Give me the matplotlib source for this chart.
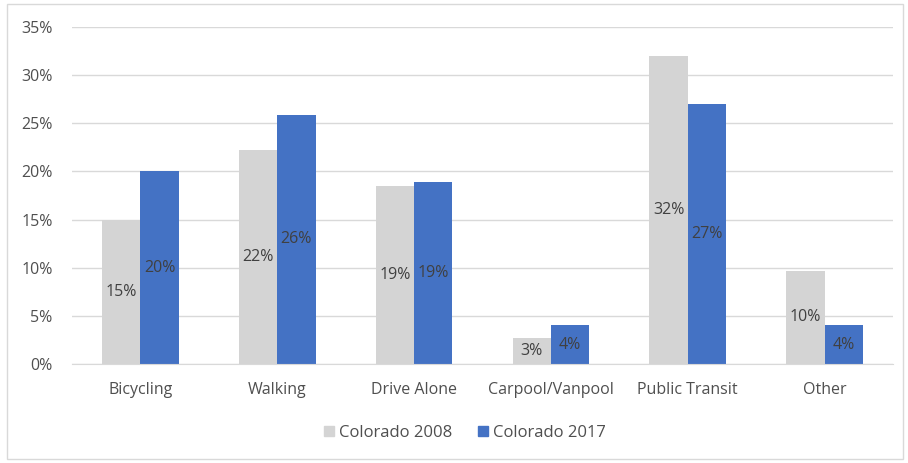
import matplotlib
matplotlib.use("Agg")
import matplotlib.pyplot as plt
import matplotlib.patches as mpatches
from matplotlib.ticker import FuncFormatter
import numpy as np

categories = ["Bicycling", "Walking", "Drive Alone", "Carpool/Vanpool", "Public Transit", "Other"]
series_names = ["Colorado 2008", "Colorado 2017"]
values_2008 = [0.15, 0.222, 0.185, 0.027, 0.32, 0.097]
values_2017 = [0.20, 0.259, 0.189, 0.04, 0.27, 0.04]
labels_2008 = ["15%", "22%", "19%", "3%", "32%", "10%"]
labels_2017 = ["20%", "26%", "19%", "4%", "27%", "4%"]
yticks = [0, 0.05, 0.10, 0.15, 0.20, 0.25, 0.30, 0.35]

plt.rcParams['font.family'] = ['Open Sans', 'DejaVu Sans']

fig = plt.figure(figsize=(9.08, 4.63), dpi=100)
ax = fig.add_axes([72/908, 1-364/463, (893-72)/908, (364-27)/463])

x = np.arange(len(categories))
w = 0.28
gray = "#D4D4D4"
blue = "#4472C4"
b1 = ax.bar(x - w/2, values_2008, w, color=gray, label=series_names[0], zorder=2)
b2 = ax.bar(x + w/2, values_2017, w, color=blue, label=series_names[1], zorder=2)

txtc = "#404040"
for rect, lab in zip(b1, labels_2008):
    ax.text(rect.get_x() + rect.get_width()/2, rect.get_height()/2, lab,
            ha="center", va="center", fontsize=11.5, color=txtc, zorder=3)
for rect, lab in zip(b2, labels_2017):
    ax.text(rect.get_x() + rect.get_width()/2, rect.get_height()/2, lab,
            ha="center", va="center", fontsize=11.5, color=txtc, zorder=3)

ax.set_xlim(-0.5, len(categories) - 0.5)
ax.set_ylim(0, 0.35)
ax.set_yticks(yticks)
ax.yaxis.set_major_formatter(FuncFormatter(lambda v, p: f"{v*100:.0f}%"))
ax.set_xticks(x)
ax.set_xticklabels(categories)
ax.tick_params(axis="both", length=0, colors="#4F4F4F", labelsize=11.5)
ax.tick_params(axis="x", pad=13)
ax.tick_params(axis="y", pad=14)
ax.grid(axis="y", color="#D9D9D9", linewidth=1, zorder=0)
for s in ["top", "right", "left"]:
    ax.spines[s].set_visible(False)
ax.spines["bottom"].set_color("#D9D9D9")

handles = [mpatches.Patch(color=gray, label=series_names[0]),
           mpatches.Patch(color=blue, label=series_names[1])]
fig.legend(handles=handles, loc="center", bbox_to_anchor=(465/908, 1-433/463),
           ncol=2, frameon=False, fontsize=12, handlelength=0.6, handleheight=0.6,
           handletextpad=0.3, columnspacing=1.5, labelcolor="#4F4F4F")

border = mpatches.Rectangle((7/908, 1-459/463), (903-7)/908, (459-4)/463,
                            transform=fig.transFigure, fill=False,
                            edgecolor="#D9D9D9", linewidth=1)
fig.patches.append(border)

fig.savefig("out.png", dpi=100)
